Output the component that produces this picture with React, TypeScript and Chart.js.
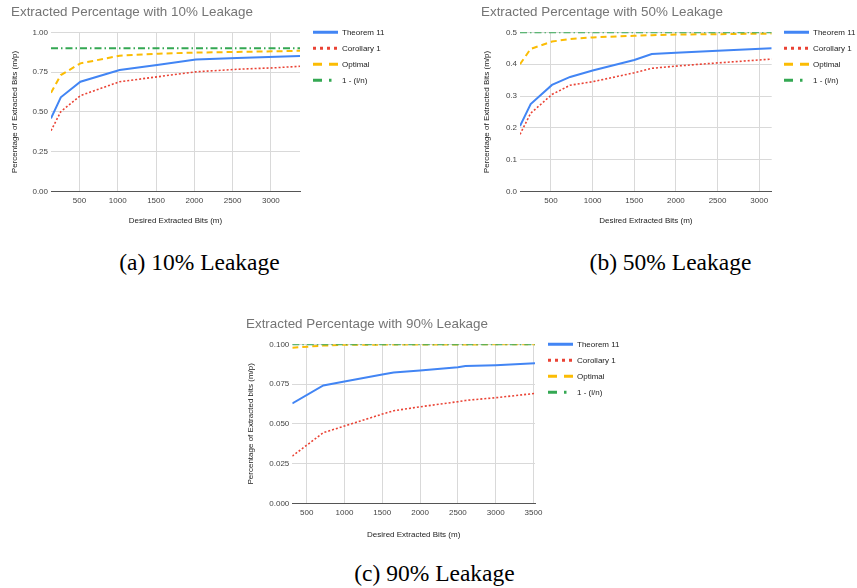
import { useEffect, useRef } from "react";
import { Chart, registerables } from "chart.js";

Chart.register(...registerables);

// ---------- data ----------
const SERIES_NAMES = ["Theorem 11", "Corollary 1", "Optimal", "1 - (l/n)"];

// (a) 10% leakage
const BITS_10 = [128, 256, 512, 1024, 1536, 2020, 2560, 3072, 3380];
const THEOREM_10 = [0.46, 0.592, 0.69, 0.764, 0.797, 0.83, 0.838, 0.846, 0.852];
const COROLLARY_10 = [0.383, 0.502, 0.603, 0.69, 0.722, 0.752, 0.768, 0.778, 0.787];
const OPTIMAL_10 = [0.621, 0.732, 0.805, 0.853, 0.866, 0.873, 0.877, 0.881, 0.884];
const BOUND_10 = [0.9, 0.9, 0.9, 0.9, 0.9, 0.9, 0.9, 0.9, 0.9];
const XTICKS_10 = [500, 1000, 1500, 2000, 2500, 3000];
const YTICKS_10 = [0, 0.25, 0.5, 0.75, 1];

// (b) 50% leakage
const BITS_50 = [128, 256, 512, 730, 1000, 1500, 1710, 2000, 2500, 3150];
const THEOREM_50 = [0.206, 0.275, 0.335, 0.36, 0.38, 0.413, 0.432, 0.436, 0.4425, 0.45];
const COROLLARY_50 = [0.18, 0.246, 0.305, 0.334, 0.345, 0.373, 0.387, 0.394, 0.404, 0.416];
const OPTIMAL_50 = [0.4, 0.448, 0.471, 0.479, 0.484, 0.489, 0.491, 0.493, 0.494, 0.496];
const BOUND_50 = [0.5, 0.5, 0.5, 0.5, 0.5, 0.5, 0.5, 0.5, 0.5, 0.5];
const XTICKS_50 = [500, 1000, 1500, 2000, 2500, 3000];
const YTICKS_50 = [0, 0.1, 0.2, 0.3, 0.4, 0.5];

// (c) 90% leakage
const BITS_90 = [310, 720, 1000, 1500, 1650, 2000, 2500, 2600, 3000, 3520];
const THEOREM_90 = [0.0628, 0.0741, 0.0766, 0.081, 0.0823, 0.0835, 0.0856, 0.0863, 0.0869, 0.0881];
const COROLLARY_90 = [0.0297, 0.0444, 0.0486, 0.0561, 0.0582, 0.0607, 0.0639, 0.0647, 0.0664, 0.0691];
const OPTIMAL_90 = [0.0978, 0.0992, 0.0997, 0.0998, 0.0998, 0.0999, 0.0999, 0.0999, 0.1, 0.1];
const BOUND_90 = [0.1, 0.1, 0.1, 0.1, 0.1, 0.1, 0.1, 0.1, 0.1, 0.1];
const XTICKS_90 = [500, 1000, 1500, 2000, 2500, 3000, 3500];
const YTICKS_90 = [0, 0.025, 0.05, 0.075, 0.1];

// ---------- styles ----------
const FONT = "'Liberation Sans', Arial, sans-serif";
const COLORS = ["#4285F4", "#EA4335", "#FBBC04", "#34A853"];
const LINE_WIDTHS = [2, 1.6, 2, 1.8];
const LINE_DASH = [[], [2, 2], [6, 4], [7, 3, 1.5, 3]];
const LEGEND_DASH = [[], [3, 4], [9, 7], [9, 7, 2.5, 20]];

type Panel = {
  title: string;
  yTitle: string;
  xs: number[];
  series: number[][];
  xTicks: number[];
  yTicks: number[];
  yDec: number;
  box: { left: number; top: number; width: number; height: number };
  area: { left: number; right: number; top: number; bottom: number };
  titleCY: number;
  yTitleCX: number;
  xTickCY: number;
  xTitleCY: number;
  legendGap: number;
};

const PANELS: Panel[] = [
  {
    title: "Extracted Percentage with 10% Leakage",
    yTitle: "Percentage of Extracted Bits (m/p)",
    xs: BITS_10,
    series: [THEOREM_10, COROLLARY_10, OPTIMAL_10, BOUND_10],
    xTicks: XTICKS_10,
    yTicks: YTICKS_10,
    yDec: 2,
    box: { left: 11, top: 0, width: 419, height: 232 },
    area: { left: 40, right: 289, top: 32.3, bottom: 191.7 },
    titleCY: 12,
    yTitleCX: 4,
    xTickCY: 201,
    xTitleCY: 221,
    legendGap: 13,
  },
  {
    title: "Extracted Percentage with 50% Leakage",
    yTitle: "Percentage of Extracted Bits (m/p)",
    xs: BITS_50,
    series: [THEOREM_50, COROLLARY_50, OPTIMAL_50, BOUND_50],
    xTicks: XTICKS_50,
    yTicks: YTICKS_50,
    yDec: 1,
    box: { left: 481, top: 0, width: 376, height: 232 },
    area: { left: 39, right: 290.7, top: 32.3, bottom: 191.7 },
    titleCY: 12.3,
    yTitleCX: 5.3,
    xTickCY: 201,
    xTitleCY: 221,
    legendGap: 12.3,
  },
  {
    title: "Extracted Percentage with 90% Leakage",
    yTitle: "Percentage of Extracted bits (m/p)",
    xs: BITS_90,
    series: [THEOREM_90, COROLLARY_90, OPTIMAL_90, BOUND_90],
    xTicks: XTICKS_90,
    yTicks: YTICKS_90,
    yDec: 3,
    box: { left: 246, top: 310, width: 394, height: 232 },
    area: { left: 46.3, right: 289, top: 34.3, bottom: 193.3 },
    titleCY: 14,
    yTitleCX: 5.2,
    xTickCY: 202.3,
    xTitleCY: 224.7,
    legendGap: 13,
  },
];

const CAPTIONS = [
  { text: "(a) 10% Leakage", cx: 199.5, cy: 262 },
  { text: "(b) 50% Leakage", cx: 670.5, cy: 262 },
  { text: "(c) 90% Leakage", cx: 434.5, cy: 573 },
];

const LEGEND_W = 40;
const LEGEND_PAD = 8;
const SMALL = 8;
const TITLE_SIZE = 13.4;

const legendPlacer = {
  id: "legendPlacer",
  beforeDraw(chart: any, _args: any, opts: any) {
    const lg = chart.legend;
    if (!lg) return;
    const top = chart.chartArea.top - SMALL / 2 - LEGEND_PAD;
    lg.left = chart.chartArea.right + opts.gap - LEGEND_PAD;
    lg.top = top;
    lg.right = chart.width + 200;
    lg.bottom = chart.height;
    lg.width = lg.right - lg.left;
    lg.height = lg.bottom - lg.top;
  },
};

function ChartPanel({ p }: { p: Panel }) {
  const ref = useRef<HTMLCanvasElement | null>(null);
  useEffect(() => {
    if (!ref.current) return;
    const { box, area } = p;
    const datasets = SERIES_NAMES.map((name, i) => ({
      label: name,
      data: p.xs.map((x, j) => ({ x, y: p.series[i][j] })),
      borderColor: COLORS[i],
      backgroundColor: COLORS[i],
      borderWidth: LINE_WIDTHS[i],
      borderDash: LINE_DASH[i],
      pointRadius: 0,
      tension: 0,
      fill: false,
      order: 3 - i,
    }));
    const yMax = p.yTicks[p.yTicks.length - 1];
    const titleTop = p.titleCY - (TITLE_SIZE * 1.2) / 2;
    const chart = new Chart(ref.current, {
      type: "line",
      data: { datasets },
      plugins: [legendPlacer],
      options: {
        animation: false,
        responsive: false,
        devicePixelRatio: 1,
        layout: {
          padding: { left: 0, top: 0, bottom: 0, right: box.width - area.right - LEGEND_W },
        },
        scales: {
          x: {
            type: "linear",
            min: p.xs[0],
            max: p.xs[p.xs.length - 1],
            afterBuildTicks: (s: any) => {
              s.ticks = p.xTicks.map((v) => ({ value: v }));
            },
            afterFit: (s: any) => {
              s.height = box.height - area.bottom;
            },
            grid: { color: "#d9d9d9", drawTicks: false, lineWidth: 1 },
            border: { display: true, color: "#555", width: 1 },
            ticks: {
              autoSkip: false,
              maxRotation: 0,
              padding: p.xTickCY - area.bottom - (SMALL * 1.2) / 2,
              color: "#444",
              font: { family: FONT, size: SMALL },
              callback: (v: any) => String(v),
            },
            title: {
              display: true,
              text: "Desired Extracted Bits (m)",
              color: "#222",
              font: { family: FONT, size: SMALL, lineHeight: 1.2 },
              padding: { top: 0, bottom: box.height - (SMALL * 1.2) / 2 - p.xTitleCY },
            },
          },
          y: {
            type: "linear",
            min: 0,
            max: yMax,
            afterBuildTicks: (s: any) => {
              s.ticks = p.yTicks.map((v) => ({ value: v }));
            },
            afterFit: (s: any) => {
              s.width = area.left;
            },
            grid: { color: "#d9d9d9", drawTicks: false, lineWidth: 1 },
            border: { display: false },
            ticks: {
              padding: 3,
              color: "#444",
              font: { family: FONT, size: SMALL },
              callback: (v: any) => Number(v).toFixed(p.yDec),
            },
            title: {
              display: true,
              text: p.yTitle,
              color: "#222",
              font: { family: FONT, size: SMALL, lineHeight: 1 },
              padding: { top: p.yTitleCX - SMALL / 2, bottom: 0 },
            },
          },
        },
        plugins: {
          title: {
            display: true,
            text: p.title,
            align: "start",
            color: "#757575",
            font: { family: FONT, size: TITLE_SIZE, weight: "normal", lineHeight: 1.2 },
            padding: {
              top: titleTop,
              bottom: area.top - TITLE_SIZE * 1.2 - titleTop,
            },
          },
          legend: {
            display: true,
            position: "right",
            align: "start",
            maxWidth: LEGEND_W,
            labels: {
              usePointStyle: true,
              pointStyleWidth: 25,
              padding: LEGEND_PAD,
              color: "#222",
              font: { family: FONT, size: SMALL },
              generateLabels: (c: any) =>
                c.data.datasets.map((ds: any, i: number) => ({
                  text: ds.label,
                  fillStyle: COLORS[i],
                  strokeStyle: COLORS[i],
                  fontColor: "#222",
                  lineWidth: 3,
                  lineDash: LEGEND_DASH[i],
                  lineCap: "butt",
                  pointStyle: "line",
                  textAlign: "left",
                  hidden: false,
                  datasetIndex: i,
                })),
            },
          },
          legendPlacer: { gap: p.legendGap },
          tooltip: { enabled: false },
        } as any,
      },
    } as any);
    return () => chart.destroy();
  }, [p]);
  return (
    <canvas
      ref={ref}
      width={p.box.width}
      height={p.box.height}
      style={{
        position: "absolute",
        left: p.box.left,
        top: p.box.top,
        width: p.box.width,
        height: p.box.height,
      }}
    />
  );
}

export default function App() {
  return (
    <div
      style={{
        position: "absolute",
        left: 0,
        top: 0,
        width: 857,
        height: 588,
        background: "#fff",
        overflow: "hidden",
      }}
    >
      {PANELS.map((p, i) => (
        <ChartPanel key={i} p={p} />
      ))}
      {CAPTIONS.map((c, i) => (
        <div
          key={i}
          style={{
            position: "absolute",
            left: c.cx - 150,
            top: c.cy - 14,
            width: 300,
            height: 28,
            lineHeight: "28px",
            textAlign: "center",
            fontFamily: "'Liberation Serif', 'Times New Roman', serif",
            fontSize: 23.5,
            color: "#000",
            whiteSpace: "nowrap",
          }}
        >
          {c.text}
        </div>
      ))}
    </div>
  );
}
